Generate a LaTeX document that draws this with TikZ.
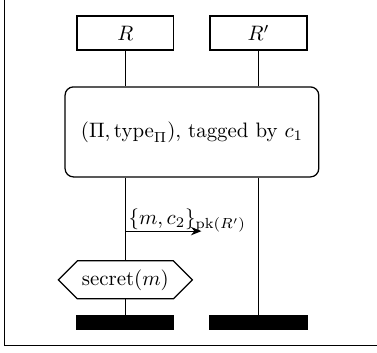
\documentclass[tikz,border=0pt]{standalone}
\usepackage{amsmath,amssymb}
\usetikzlibrary{arrows.meta, positioning, shapes.symbols}

\begin{document}
\begin{tikzpicture}[
  semithick,
  node distance=2.24cm,
  instance/.style={draw, rectangle, minimum width=1.63cm, minimum height=0.57cm},
  protocol/.style={draw, rectangle, rounded corners, minimum width=4.27cm, minimum height=1.515cm},
  condition/.style={draw, signal, signal to=west and east, signal pointer angle=90, minimum width=2.255cm, minimum height=0.64cm, inner sep=1pt},
  stopbar/.style={draw, fill=black, rectangle, minimum width=1.63cm, minimum height=0.22cm, inner sep=0pt},
  msglabel/.style={inner sep=0pt}
]
\useasboundingbox (0,0) rectangle (6.345,-5.94);
\draw (0.076,1) |- (7,-5.82);

\node[instance] (r) at (2.11,-0.555) {$R$};
\node[instance, right of=r] (rp) {$R'$};
\node[protocol] (prot) at (3.23,-2.22) {$(\Pi, \mathrm{type}_{\Pi})$, tagged by $c_1$};
\node[condition] (sec) at (2.11,-4.71) {$\mathrm{secret}(m)$};
\node[stopbar] (rend) at (2.11,-5.43) {};
\node[stopbar, right of=rend] (rpend) {};

% lifelines
\draw (r.south) -- (r.south |- prot.north);
\draw (rp.south) -- (rp.south |- prot.north);
\draw (r.south |- prot.south) -- (sec.north);
\draw (sec.south) -- (rend.north);
\draw (rp.south |- prot.south) -- (rpend.north);

% message
\coordinate (msgstart) at (2.11,-3.89);
\coordinate (msgend) at (3.39,-3.89);
\draw[-{Stealth[length=5pt,width=4pt]}] (msgstart) -- (msgend);
\node[msglabel, anchor=base west] (msg) at ([shift={(0.045,0.11)}]msgstart) {$\{m, c_2\}_{\mathrm{pk}(R')}$};
\end{tikzpicture}
\end{document}
